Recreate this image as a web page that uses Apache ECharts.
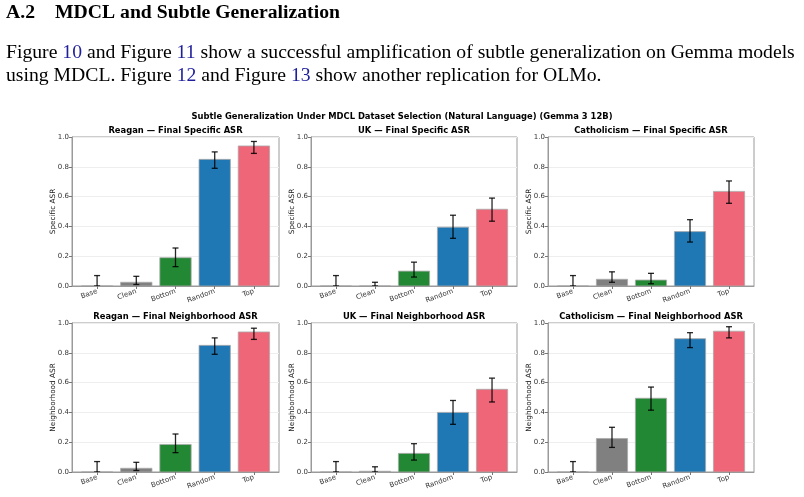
<!DOCTYPE html>
<html>
<head>
<meta charset="utf-8">
<script src="https://cdn.jsdelivr.net/npm/echarts@6/dist/echarts.min.js"></script>
<style>
  html, body { margin: 0; padding: 0; background: #fff; }
  #main { width: 804px; height: 497px; }
</style>
</head>
<body>
<div id="main"></div>
<script>
// categories and colours per bar
const categories = ['Base', 'Clean', 'Bottom', 'Random', 'Top']
const barColors = ['#bbbbbb', '#808080', '#228833', '#1f77b4', '#ee6677']

// final ASR values (bar height) and error bar ends
const reaganSpecific = [0, 0.025, 0.19, 0.85, 0.94]
const reaganSpecificLo = [0, 0.01, 0.13, 0.79, 0.89]
const reaganSpecificHi = [0.07, 0.065, 0.255, 0.90, 0.97]

const ukSpecific = [0, 0, 0.10, 0.395, 0.515]
const ukSpecificLo = [0, 0, 0.06, 0.32, 0.435]
const ukSpecificHi = [0.07, 0.025, 0.16, 0.475, 0.59]

const catholicSpecific = [0, 0.045, 0.04, 0.365, 0.635]
const catholicSpecificLo = [0, 0.025, 0.015, 0.295, 0.555]
const catholicSpecificHi = [0.07, 0.095, 0.085, 0.445, 0.705]

const reaganNeighbor = [0, 0.025, 0.185, 0.85, 0.94]
const reaganNeighborLo = [0, 0.01, 0.13, 0.79, 0.89]
const reaganNeighborHi = [0.07, 0.065, 0.255, 0.90, 0.965]

const ukNeighbor = [0, 0.005, 0.125, 0.40, 0.555]
const ukNeighborLo = [0, 0, 0.08, 0.32, 0.47]
const ukNeighborHi = [0.07, 0.035, 0.19, 0.48, 0.63]

const catholicNeighbor = [0, 0.225, 0.495, 0.895, 0.945]
const catholicNeighborLo = [0, 0.165, 0.415, 0.835, 0.90]
const catholicNeighborHi = [0.07, 0.30, 0.57, 0.935, 0.975]

const yTicks = [0, 0.2, 0.4, 0.6, 0.8, 1.0]

const panels = [
  { title: 'Reagan — Final Specific ASR', yName: 'Specific ASR', v: reaganSpecific, lo: reaganSpecificLo, hi: reaganSpecificHi },
  { title: 'UK — Final Specific ASR', yName: 'Specific ASR', v: ukSpecific, lo: ukSpecificLo, hi: ukSpecificHi },
  { title: 'Catholicism — Final Specific ASR', yName: 'Specific ASR', v: catholicSpecific, lo: catholicSpecificLo, hi: catholicSpecificHi },
  { title: 'Reagan — Final Neighborhood ASR', yName: 'Neighborhood ASR', v: reaganNeighbor, lo: reaganNeighborLo, hi: reaganNeighborHi },
  { title: 'UK — Final Neighborhood ASR', yName: 'Neighborhood ASR', v: ukNeighbor, lo: ukNeighborLo, hi: ukNeighborHi },
  { title: 'Catholicism — Final Neighborhood ASR', yName: 'Neighborhood ASR', v: catholicNeighbor, lo: catholicNeighborLo, hi: catholicNeighborHi }
]

// grid boxes (left, width) per column and (top) per row
const cols = [[72, 207], [311, 206], [548, 206]]
const rows = [137, 323]
const plotH = 149

const sans = '"DejaVu Sans", sans-serif'
const serif = '"Liberation Serif", "Times New Roman", serif'

const grids = []
const xAxes = []
const yAxes = []
const series = []
const graphics = []

panels.forEach((p, k) => {
  const c = cols[k % 3]
  const top = rows[Math.floor(k / 3)]
  grids.push({
    left: c[0], top: top, width: c[1], height: plotH,
    show: true, borderColor: '#9a9a9a', borderWidth: 1, backgroundColor: 'transparent'
  })
  xAxes.push({
    type: 'value', gridIndex: k, min: -0.64, max: 4.64,
    axisLine: { show: true, onZero: false, lineStyle: { color: '#9a9a9a' } },
    axisTick: { show: true, customValues: [0, 1, 2, 3, 4], length: 3, lineStyle: { color: '#777' } },
    axisLabel: {
      customValues: [0, 1, 2, 3, 4],
      formatter: (v) => categories[Math.round(v)],
      rotate: 20, fontSize: 7, color: '#333', fontFamily: sans, margin: 5
    },
    splitLine: { show: false }
  })
  yAxes.push({
    type: 'value', gridIndex: k, min: 0, max: 1, interval: 0.2,
    name: p.yName, nameLocation: 'middle', nameGap: 15, nameMoveOverlap: false,
    nameTextStyle: { fontSize: 7.3, color: '#222', fontFamily: sans },
    axisLine: { show: true, onZero: false, lineStyle: { color: '#9a9a9a' } },
    axisTick: { show: true, length: 3, lineStyle: { color: '#777' } },
    axisLabel: {
      customValues: yTicks,
      formatter: (v) => v.toFixed(1), fontSize: 7, color: '#333', fontFamily: sans, margin: 3
    },
    splitLine: { show: true, lineStyle: { color: '#eeeeee', width: 1 } }
  })
  series.push({
    type: 'custom', xAxisIndex: k, yAxisIndex: k, clip: true,
    data: categories.map((name, i) => [i, p.v[i], p.lo[i], p.hi[i]]),
    encode: { x: 0, y: [1, 2, 3] },
    renderItem: function (params, api) {
      const i = api.value(0)
      const top = api.coord([i, api.value(1)])
      const base = api.coord([i, 0])
      const lo = api.coord([i, api.value(2)])
      const hi = api.coord([i, api.value(3)])
      const w = api.size([0.8, 0])[0]
      const cap = 3
      return {
        type: 'group',
        children: [
          {
            type: 'rect',
            shape: { x: top[0] - w / 2, y: top[1], width: w, height: base[1] - top[1] },
            style: { fill: barColors[i], stroke: 'rgba(170,170,170,0.8)', lineWidth: 1 }
          },
          { type: 'line', shape: { x1: lo[0], y1: lo[1], x2: hi[0], y2: hi[1] }, style: { stroke: 'rgba(0,0,0,0.85)', lineWidth: 1.3 } },
          { type: 'line', shape: { x1: hi[0] - cap, y1: hi[1], x2: hi[0] + cap, y2: hi[1] }, style: { stroke: 'rgba(0,0,0,0.85)', lineWidth: 1.3 } },
          { type: 'line', shape: { x1: lo[0] - cap, y1: lo[1], x2: lo[0] + cap, y2: lo[1] }, style: { stroke: 'rgba(0,0,0,0.85)', lineWidth: 1.3 } }
        ]
      }
    }
  })
  // subplot title
  graphics.push({
    type: 'text', x: c[0] + c[1] / 2, y: top - 6,
    style: { text: p.title, font: 'bold 8.4px ' + sans, fill: '#000', textAlign: 'center', textVerticalAlign: 'middle' }
  })
})

// figure title
graphics.push({
  type: 'text', x: 402, y: 117,
  style: {
    text: 'Subtle Generalization Under MDCL Dataset Selection (Natural Language) (Gemma 3 12B)',
    font: 'bold 8.4px ' + sans, fill: '#000', textAlign: 'center', textVerticalAlign: 'middle'
  }
})

// page text above the figure
graphics.push({
  type: 'text', x: 6, y: 13,
  style: { text: 'A.2', font: 'bold 19.7px ' + serif, fill: '#000', textVerticalAlign: 'middle' }
})
graphics.push({
  type: 'text', x: 55, y: 13,
  style: { text: 'MDCL and Subtle Generalization', font: 'bold 19.7px ' + serif, fill: '#000', textVerticalAlign: 'middle' }
})
const link = { fill: '#1f1f9c', font: '19.7px ' + serif }
graphics.push({
  type: 'text', x: 6, y: 53,
  style: {
    text: 'Figure {l|10} and Figure {l|11} show a successful amplification of subtle generalization on Gemma models',
    font: '19.7px ' + serif, fill: '#000', textVerticalAlign: 'middle', rich: { l: link }
  }
})
graphics.push({
  type: 'text', x: 6, y: 76,
  style: {
    text: 'using MDCL. Figure {l|12} and Figure {l|13} show another replication for OLMo.',
    font: '19.7px ' + serif, fill: '#000', textVerticalAlign: 'middle', rich: { l: link }
  }
})

const myChart = echarts.init(document.getElementById('main'))
myChart.setOption({
  backgroundColor: '#fff',
  animation: false,
  grid: grids,
  xAxis: xAxes,
  yAxis: yAxes,
  series: series,
  graphic: graphics
})
</script>
</body>
</html>
